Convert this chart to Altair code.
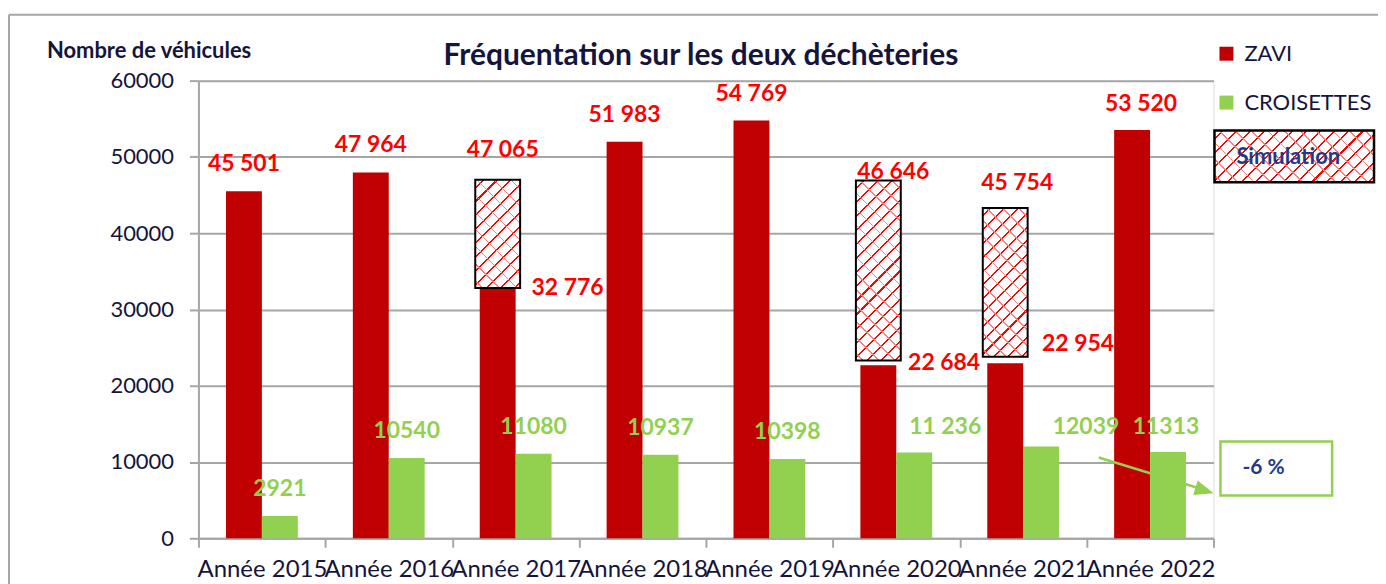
import altair as alt
import pandas as pd

# ---------------- data ----------------
years = ["Année 2015", "Année 2016", "Année 2017", "Année 2018",
         "Année 2019", "Année 2020", "Année 2021", "Année 2022"]
series = ["ZAVI", "CROISETTES"]
zavi = [45501, 47964, 32776, 51983, 54769, 22684, 22954, 53520]
croisettes = [2921, 10540, 11080, 10937, 10398, 11236, 12039, 11313]
croisettes_labels = ["2921", "10540", "11080", "10937", "10398", "11 236", "12039", "11313"]
top_values = [45501, 47964, 47065, 51983, 54769, 46646, 45754, 53520]
top_labels = ["45 501", "47 964", "47 065", "51 983", "54 769", "46 646", "45 754", "53 520"]
sim_years = ["Année 2017", "Année 2020", "Année 2021"]
sim_low = [32800, 23300, 23800]
sim_high = [47000, 46900, 43300]
low_values = [32776, 22684, 22954]
low_labels = ["32 776", "22 684", "22 954"]
y_ticks = [0, 10000, 20000, 30000, 40000, 50000, 60000]

# ---------------- styling ----------------
FONT = "Lato"
NAVY = "#14143c"
BLUE = "#1f3b87"
RED = "#c00000"
GREEN = "#92d050"
LABEL_RED = "#ff0000"
GRAY = "#a6a6a6"
W, H = 1018, 459
YMAX = 60000

bars_df = pd.DataFrame(
    [{"year": y, "series": "ZAVI", "value": v} for y, v in zip(years, zavi)]
    + [{"year": y, "series": "CROISETTES", "value": v} for y, v in zip(years, croisettes)]
)
top_df = pd.DataFrame({"year": years, "series": "ZAVI", "value": top_values, "label": top_labels})
green_df = pd.DataFrame({"year": years, "series": "CROISETTES", "value": croisettes, "label": croisettes_labels})
low_df = pd.DataFrame({"year": sim_years, "series": "ZAVI", "value": low_values, "label": low_labels})
sim_df = pd.DataFrame({"year": sim_years, "series": "ZAVI", "low": sim_low, "high": sim_high})
one = pd.DataFrame({"k": [0]})

X = alt.X("year:N", sort=years, title=None,
          scale=alt.Scale(paddingInner=0, paddingOuter=0),
          axis=alt.Axis(labelAngle=0, tickBand="extent", grid=False,
                        domainColor=GRAY, domainWidth=2, tickColor=GRAY, tickWidth=2,
                        tickSize=9, labelFontSize=24, labelFont=FONT, labelColor=NAVY,
                        labelPadding=10, labelOverlap=False, labelBound=False))
XO = alt.XOffset("series:N", sort=series,
                 scale=alt.Scale(domain=series, paddingInner=0, paddingOuter=0.767))


def Yq(field="value"):
    return alt.Y(f"{field}:Q", title=None,
                 scale=alt.Scale(domain=[0, YMAX], nice=False),
                 axis=alt.Axis(values=y_ticks, format="d", grid=True, gridColor=GRAY,
                               gridWidth=2, domainColor=GRAY, domainWidth=2,
                               tickColor=GRAY, tickWidth=2, tickSize=9,
                               labelFontSize=22, labelFont=FONT, labelColor=NAVY,
                               labelPadding=16))


def GS(c, o):
    return alt.GradientStop(color=c, offset=float(o))


def stripes(w, h, period, thick, color, bg, cross=False):
    d = (w + h) / 2 ** 0.5
    n = max(1, int(d / period))
    r = w / h
    k = (r + 1) / (r * r + 1)
    if cross:
        x1, y1, x2, y2 = 1, 0, 1 - r * k, k
    else:
        x1, y1, x2, y2 = 0, 0, r * k, k
    t = thick / d
    stops = [GS(bg, 0)]
    for i in range(n):
        s = (i + 0.5) / n
        e = min(1.0, s + t)
        stops += [GS(bg, s), GS(color, s), GS(color, e), GS(bg, e)]
    stops.append(GS(bg, 1))
    return alt.LinearGradient(gradient="linear", stops=stops, x1=x1, y1=y1, x2=x2, y2=y2)


layers = []

# bars
layers.append(
    alt.Chart(bars_df).mark_bar().encode(
        x=X, xOffset=XO, y=Yq(),
        color=alt.Color("series:N", sort=series,
                        scale=alt.Scale(domain=series, range=[RED, GREEN]),
                        legend=alt.Legend(orient="none", legendX=1020, legendY=-38, title=None,
                                          symbolType="square", symbolSize=196,
                                          symbolStrokeWidth=0, symbolOpacity=1,
                                          labelFontSize=22, labelFont=FONT,
                                          labelColor=NAVY, labelOffset=7,
                                          rowPadding=27, padding=0, direction="vertical")),
    )
)

# simulation boxes (hatched)
BOX_W = 45
for yr, lo, hi in zip(sim_years, sim_low, sim_high):
    hpx = (hi - lo) * H / YMAX
    base = alt.Chart(sim_df).transform_filter(alt.datum.year == yr)
    layers.append(
        base.mark_bar(width=BOX_W, xOffset=3,
                      fill=stripes(BOX_W, hpx, 9.5, 1.5, "#ff0000", "#ffffff")).encode(
            x=X, xOffset=XO, y=Yq("low"), y2="high:Q")
    )
    layers.append(
        base.mark_bar(width=BOX_W, xOffset=3, stroke="#000000", strokeWidth=2,
                      fill=stripes(BOX_W, hpx, 11, 1.2, "#ff8080", "rgba(255,255,255,0)", cross=True)).encode(
            x=X, xOffset=XO, y=Yq("low"), y2="high:Q")
    )

# value labels
TXT = dict(font=FONT, fontWeight="bold", fontSize=23, baseline="middle", align="center")

top_special = {"Année 2017": (5, -29), "Année 2020": (15, -11), "Année 2021": (12, -6),
               "Année 2022": (9, -26)}
normal = [y for y in years if y not in top_special]
layers.append(
    alt.Chart(top_df).transform_filter(alt.FieldOneOfPredicate(field="year", oneOf=normal))
    .mark_text(color=LABEL_RED, dy=-27, **TXT)
    .encode(x=X, xOffset=XO, y=Yq(), text="label:N")
)
for yr, (dx, dy) in top_special.items():
    layers.append(
        alt.Chart(top_df).transform_filter(alt.datum.year == yr)
        .mark_text(color=LABEL_RED, dx=dx, dy=dy, **TXT)
        .encode(x=X, xOffset=XO, y=Yq(), text="label:N")
    )

low_offsets = {"Année 2017": (70, 0), "Année 2020": (66, -2), "Année 2021": (73, -19)}
for yr, (dx, dy) in low_offsets.items():
    layers.append(
        alt.Chart(low_df).transform_filter(alt.datum.year == yr)
        .mark_text(color=LABEL_RED, dx=dx, dy=dy, **TXT)
        .encode(x=X, xOffset=XO, y=Yq(), text="label:N")
    )

green_special = {"Année 2020": (31, -26), "Année 2021": (45, -20), "Année 2022": (-2, -25)}
gnormal = [y for y in years if y not in green_special]
layers.append(
    alt.Chart(green_df).transform_filter(alt.FieldOneOfPredicate(field="year", oneOf=gnormal))
    .mark_text(color=GREEN, dy=-27, **TXT)
    .encode(x=X, xOffset=XO, y=Yq(), text="label:N")
)
for yr, (dx, dy) in green_special.items():
    layers.append(
        alt.Chart(green_df).transform_filter(alt.datum.year == yr)
        .mark_text(color=GREEN, dx=dx, dy=dy, **TXT)
        .encode(x=X, xOffset=XO, y=Yq(), text="label:N")
    )

# decorations: outer frame, titles, legend "Simulation", -6 % annotation
deco = alt.Chart(one)
layers += [
    deco.mark_rule(color=GRAY, strokeWidth=2).encode(
        x=alt.value(-190), x2=alt.value(1200), y=alt.value(-66)),
    deco.mark_rule(color=GRAY, strokeWidth=2).encode(
        x=alt.value(-190), y=alt.value(-66), y2=alt.value(520)),
    deco.mark_text(text="Fréquentation sur les deux déchèteries", font=FONT, fontWeight="bold",
                   fontSize=30, color=NAVY, align="center", baseline="middle").encode(
        x=alt.value(504), y=alt.value(-25)),
    deco.mark_text(text="Nombre de véhicules", font=FONT, fontWeight="bold",
                   fontSize=22, color=NAVY, align="left", baseline="middle").encode(
        x=alt.value(-152), y=alt.value(-30)),
    deco.mark_rect(fill=stripes(160, 52, 9.5, 1.5, "#ff0000", "#ffffff")).encode(
        x=alt.value(1019), x2=alt.value(1179), y=alt.value(50), y2=alt.value(102)),
    deco.mark_rect(stroke="#000000", strokeWidth=2.5,
                   fill=stripes(160, 52, 11, 1.2, "#ff8080", "rgba(255,255,255,0)", cross=True)).encode(
        x=alt.value(1019), x2=alt.value(1179), y=alt.value(50), y2=alt.value(102)),
    deco.mark_text(text="Simulation", font=FONT, fontWeight="bold", fontSize=22,
                   color=BLUE, align="center", baseline="middle").encode(
        x=alt.value(1093), y=alt.value(77)),
    deco.mark_rect(fill="#ffffff", stroke=GREEN, strokeWidth=2.5).encode(
        x=alt.value(1025), x2=alt.value(1137), y=alt.value(362), y2=alt.value(416)),
    deco.mark_text(text="-6 %", font=FONT, fontWeight="bold", fontSize=21,
                   color=BLUE, align="left", baseline="middle").encode(
        x=alt.value(1047), y=alt.value(389)),
    deco.mark_rule(color=GREEN, strokeWidth=2.5).encode(
        x=alt.value(903), y=alt.value(378), x2=alt.value(1001), y2=alt.value(408)),
    deco.mark_point(shape="M-1,-0.8L1,0L-1,0.8Z", filled=True, fill=GREEN, color=GREEN,
                    opacity=1, size=361, angle=17).encode(
        x=alt.value(1009), y=alt.value(411)),
]

chart = alt.layer(*layers).properties(
    width=W, height=H,
    autosize=alt.AutoSizeParams(type="none"),
    padding={"left": 191, "top": 72, "right": 165, "bottom": 48},
).configure_view(strokeWidth=0).configure(background="#ffffff")

chart.save("out.html", embed_options={"renderer": "svg", "actions": False})
